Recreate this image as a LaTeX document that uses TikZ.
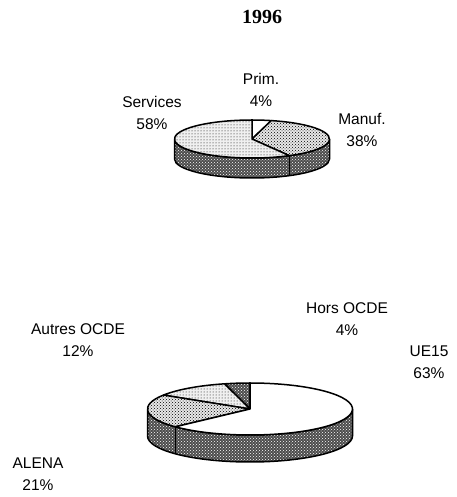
\documentclass[tikz,border=0pt]{standalone}
\usepackage{fontspec}
\setmainfont{Liberation Serif}
\setsansfont{Liberation Sans}
\usetikzlibrary{patterns}

\begin{document}
\begin{tikzpicture}[
  x=1pt, y=1pt,
  lbl/.style={font=\sffamily\fontsize{15.5}{22}\selectfont, align=center, inner sep=0pt},
  ttl/.style={font=\bfseries\fontsize{20}{24}\selectfont, inner sep=0pt},
  edge/.style={draw=black, line width=1.5pt, line join=round},
  blank/.style={fill=white},
  lightdots/.style={preaction={fill=gray!12}, pattern=dots},
  densedots/.style={preaction={fill=gray!18}, pattern=crosshatch dots},
  darkhatch/.style={preaction={fill=black!70}, pattern=crosshatch dots, pattern color=white},
]
\useasboundingbox (0,0) rectangle (456,497);

% Title
\node[ttl] (year) at (262,480) {1996};

% Top pie: sectors by activity
\coordinate (tc) at (252,358);
\begin{scope}[x radius=77.5, y radius=19]
\path[darkhatch, edge] (tc) ++(180:77.5 and 19) arc[start angle=180, end angle=360]
  -- ++(0,-20) arc[start angle=360, end angle=180] -- cycle;
\draw[edge] (tc) ++(-61.2:77.5 and 19) -- ++(0,-20);
\path[blank, edge] (tc) -- ++(90:77.5 and 19) arc[start angle=90, end angle=75.6] -- cycle;
\path[densedots, edge] (tc) -- ++(75.6:77.5 and 19) arc[start angle=75.6, end angle=-61.2] -- cycle;
\path[lightdots, edge] (tc) -- ++(-61.2:77.5 and 19) arc[start angle=-61.2, end angle=-270] -- cycle;
\end{scope}

\node[lbl] (prim) at (261,407) {Prim.\\4\%};
\node[lbl] (serv) at (152,384) {Services\\58\%};
\node[lbl] (manuf) at (362,367) {Manuf.\\38\%};

% Bottom pie: sectors by destination
\coordinate (bc) at (250,88);
\begin{scope}[x radius=102.5, y radius=26]
\path[darkhatch, edge] (bc) ++(180:102.5 and 26) arc[start angle=180, end angle=360]
  -- ++(0,-27) arc[start angle=360, end angle=180] -- cycle;
\draw[edge] (bc) ++(223.2:102.5 and 26) -- ++(0,-27);
\path[darkhatch, edge] (bc) -- ++(90:102.5 and 26) arc[start angle=90, end angle=104.4] -- cycle;
\path[lightdots, edge] (bc) -- ++(104.4:102.5 and 26) arc[start angle=104.4, end angle=147.6] -- cycle;
\path[densedots, edge] (bc) -- ++(147.6:102.5 and 26) arc[start angle=147.6, end angle=223.2] -- cycle;
\path[blank, edge] (bc) -- ++(223.2:102.5 and 26) arc[start angle=223.2, end angle=450] -- cycle;
\end{scope}

\node[lbl] (hors) at (347,178) {Hors OCDE\\4\%};
\node[lbl] (autres) at (78,157) {Autres OCDE\\12\%};
\node[lbl] (ue) at (429,135) {UE15\\63\%};
\node[lbl] (alena) at (38,23) {ALENA\\21\%};

\end{tikzpicture}
\end{document}
